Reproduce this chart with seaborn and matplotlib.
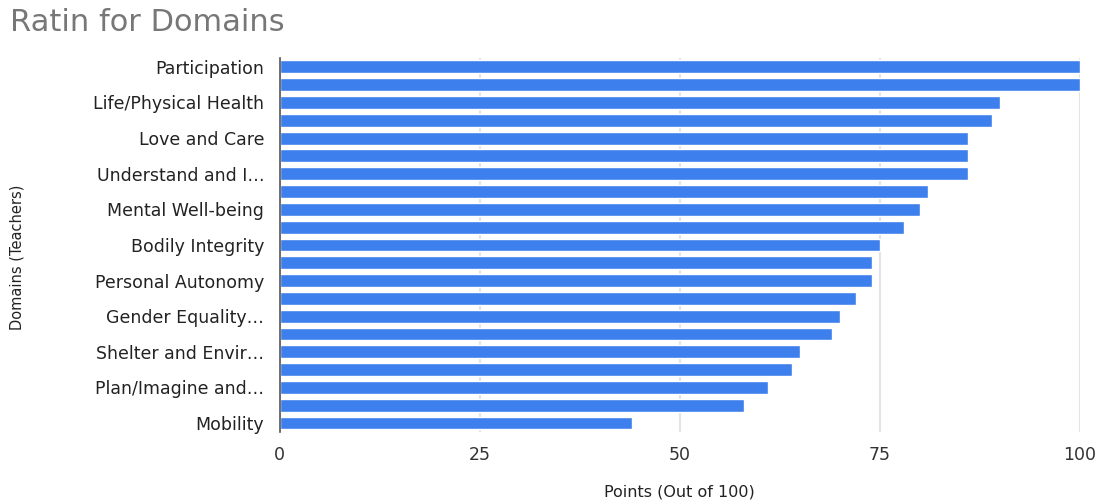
import matplotlib
matplotlib.use("Agg")
import matplotlib.pyplot as plt
import seaborn as sns
import pandas as pd

# values, top bar first
points = [100, 100, 90, 89, 86, 86, 86, 81, 80, 78, 75,
          74, 74, 72, 70, 69, 65, 64, 61, 58, 44]
# only every other bar carries a label in the original chart
labels = ["Participation", "", "Life/Physical Health", "", "Love and Care", "",
          "Understand and I\u2026", "", "Mental Well-being", "", "Bodily Integrity", "",
          "Personal Autonomy", "", "Gender Equality\u2026", "", "Shelter and Envir\u2026", "",
          "Plan/Imagine and\u2026", "", "Mobility"]
x_ticks = [0, 25, 50, 75, 100]

df = pd.DataFrame({"rank": list(range(len(points))), "points": points})

sns.set_style("white")
plt.rcParams["font.family"] = ["DejaVu Sans"]

fig = plt.figure(figsize=(11.05, 5.04), dpi=100)
ax = fig.add_axes([0.253, 0.143, 0.724, 0.742])

sns.barplot(data=df, x="points", y="rank", orient="h", color="#3d7fec",
            width=0.72, saturation=1, ax=ax)

ax.set_xlim(0, 100)
ax.set_xticks(x_ticks)
ax.set_xticklabels([str(t) for t in x_ticks], fontsize=12.5, color="#333333")
ax.set_yticks(range(len(labels)))
ax.set_yticklabels(labels, fontsize=12.5, color="#222222")
ax.tick_params(axis="both", length=0, pad=11)
ax.tick_params(axis="x", pad=10)

ax.grid(axis="x", color="#e3e3e3", linewidth=1.5)
ax.set_axisbelow(True)
for s in ["top", "right", "bottom"]:
    ax.spines[s].set_visible(False)
ax.spines["left"].set_color("#555555")
ax.spines["left"].set_linewidth(1.2)

ax.set_xlabel("Points (Out of 100)", fontsize=11.5, color="#222222", va="center")
ax.xaxis.set_label_coords(0.5, -0.16)
ax.set_ylabel("Domains (Teachers)", fontsize=10.5, color="#222222", va="center")
ax.yaxis.set_label_coords(-0.328, 0.468)

fig.text(0.009, 0.955, "Ratin for Domains", fontsize=22, color="#777777",
         ha="left", va="center")

fig.savefig("out.png", dpi=100)
